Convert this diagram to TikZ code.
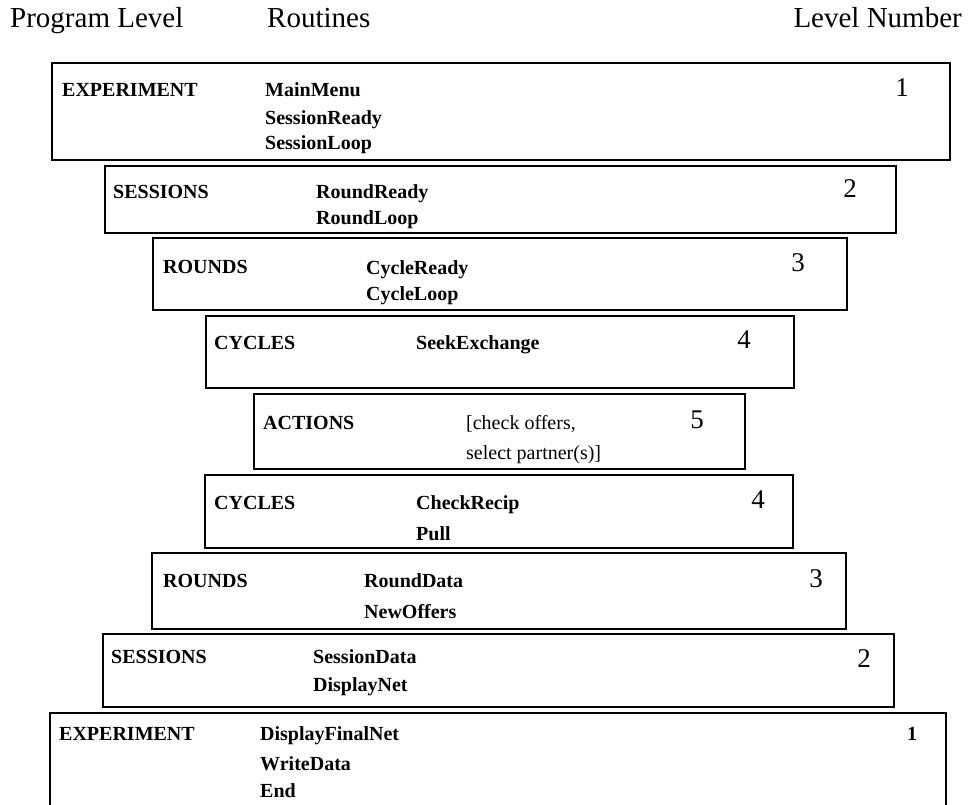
\documentclass[tikz,border=0pt]{standalone}
\usepackage{fontspec}
\setmainfont{Liberation Serif}
\usetikzlibrary{positioning}
\tikzset{
  levelbox/.style={draw=black,line width=1.5pt},
  headtext/.style={anchor=base west,inner sep=0pt,font=\fontsize{29}{32}\selectfont},
  levellabel/.style={anchor=base west,inner sep=0pt,font=\fontsize{20}{22}\selectfont\bfseries},
  routine/.style={levellabel},
  plainroutine/.style={anchor=base west,inner sep=0pt,font=\fontsize{20}{22}\selectfont},
  levelnum/.style={anchor=base,inner sep=0pt,font=\fontsize{27}{30}\selectfont},
  smallnum/.style={anchor=base,inner sep=0pt,font=\fontsize{20}{22}\selectfont\bfseries}
}
\begin{document}
\begin{tikzpicture}[x=1pt,y=-1pt]
  \useasboundingbox (0,0) rectangle (974,805);

  % column heads
  \node[headtext] (hdProg) at (10,28) {Program Level};
  \node[headtext] (hdRout) at (267,28) {Routines};
  \node[headtext,anchor=base east] (hdNum) at (962,28) {Level Number};

  % nested level boxes, going down and coming back up
  \draw[levelbox] (52,63) rectangle (950,160);
  \draw[levelbox] (105,166) rectangle (896,233);
  \draw[levelbox] (153,238) rectangle (847,310);
  \draw[levelbox] (206,316) rectangle (794,388);
  \draw[levelbox] (254,394) rectangle (745,469);
  \draw[levelbox] (205,475) rectangle (793,548);
  \draw[levelbox] (152,553) rectangle (846,629);
  \draw[levelbox] (103,634) rectangle (894,707);
  \draw[levelbox] (50,806) |- (946,713) -- (946,806);

  % level 1
  \node[levellabel] (labA) at (62,97) {EXPERIMENT};
  \node[routine] (rtAa) at (265,97) {MainMenu};
  \node[routine] (rtAb) at (265,125) {SessionReady};
  \node[routine] (rtAc) at (265,150) {SessionLoop};
  \node[levelnum] (numA) at (902,97) {1};

  % level 2
  \node[levellabel] (labB) at (113,199) {SESSIONS};
  \node[routine] (rtBa) at (316,199) {RoundReady};
  \node[routine] (rtBb) at (316,225) {RoundLoop};
  \node[levelnum] (numB) at (850,198) {2};

  % level 3
  \node[levellabel] (labC) at (163,273) {ROUNDS};
  \node[routine] (rtCa) at (366,274) {CycleReady};
  \node[routine] (rtCb) at (366,300) {CycleLoop};
  \node[levelnum] (numC) at (798,271) {3};

  % level 4
  \node[levellabel] (labD) at (214,349) {CYCLES};
  \node[routine] (rtDa) at (416,349) {SeekExchange};
  \node[levelnum] (numD) at (744,348) {4};

  % level 5
  \node[levellabel] (labE) at (263,429) {ACTIONS};
  \node[plainroutine] (rtEa) at (466,429) {[check offers,};
  \node[plainroutine] (rtEb) at (466,459) {select partner(s)]};
  \node[levelnum] (numE) at (697,428) {5};

  % level 4 again
  \node[levellabel] (labF) at (214,509) {CYCLES};
  \node[routine] (rtFa) at (416,509) {CheckRecip};
  \node[routine] (rtFb) at (416,540) {Pull};
  \node[levelnum] (numF) at (758,508) {4};

  % level 3 again
  \node[levellabel] (labG) at (163,587) {ROUNDS};
  \node[routine] (rtGa) at (364,587) {RoundData};
  \node[routine] (rtGb) at (364,618) {NewOffers};
  \node[levelnum] (numG) at (816,587) {3};

  % level 2 again
  \node[levellabel] (labH) at (111,663) {SESSIONS};
  \node[routine] (rtHa) at (313,663) {SessionData};
  \node[routine] (rtHb) at (313,691) {DisplayNet};
  \node[levelnum] (numH) at (864,667) {2};

  % level 1 again
  \node[levellabel] (labI) at (59,740) {EXPERIMENT};
  \node[routine] (rtIa) at (260,740) {DisplayFinalNet};
  \node[routine] (rtIb) at (260,770) {WriteData};
  \node[routine] (rtIc) at (260,797) {End};
  \node[smallnum] (numI) at (912,740) {1};
\end{tikzpicture}
\end{document}
